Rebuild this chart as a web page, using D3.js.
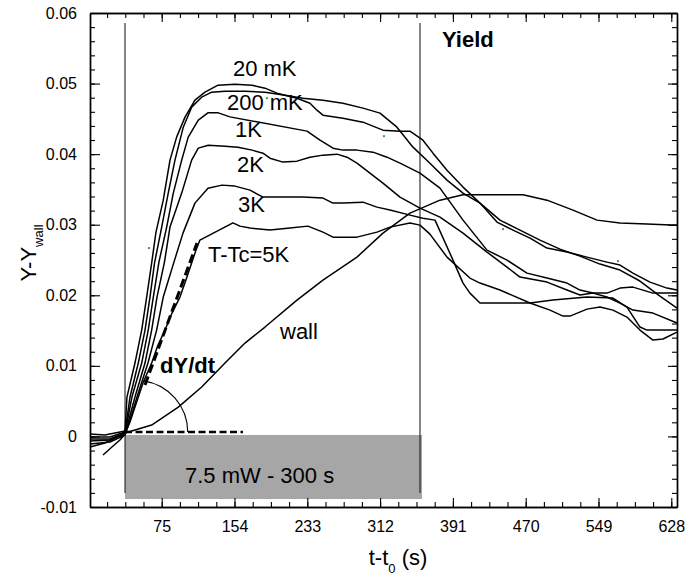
<!DOCTYPE html>
<html>
<head>
<meta charset="utf-8">
<script src="https://cdn.jsdelivr.net/npm/d3@7"></script>
<style>
  html, body { margin: 0; padding: 0; background: #fff; }
  svg { display: block; font-family: "Liberation Sans", Arial, sans-serif; }
</style>
</head>
<body>
<svg id="chart" width="688" height="583"></svg>
<script>
// ---------------- DATA (time t-t0 in s, Y-Ywall) ----------------
const xTickValues = [75, 154, 233, 312, 391, 470, 549, 628];
const xTickLabels = ["75", "154", "233", "312", "391", "470", "549", "628"];
const yTickValues = [-0.01, 0, 0.01, 0.02, 0.03, 0.04, 0.05, 0.06];
const yTickLabels = ["-0.01", "0", "0.01", "0.02", "0.03", "0.04", "0.05", "0.06"];

const seriesNames = ["20 mK", "200 mK", "1K", "2K", "3K", "T-Tc=5K", "wall"];

const s20mK = [[-2.8,0.34],[13.4,0.20],[24.3,0.48],[35.2,0.76],[37.3,5.58],[46.0,10.40],[53.3,15.07],[58.7,19.75],[64.1,24.56],[68.8,28.95],[76.7,33.48],[84.0,39.15],[91.3,42.45],[100.3,45.24],[111.1,47.65],[122.0,48.78],[136.1,49.77],[154.5,49.92],[173.0,49.77],[187.1,49.35],[200.1,48.64],[221.8,47.93],[235.9,47.22],[243.5,46.23],[250.0,45.52],[271.7,45.10],[293.4,44.53],[315.1,43.40],[333.6,43.26],[344.4,43.26],[358.5,41.98],[369.4,40.14],[384.6,37.73],[402.0,35.33],[420.4,33.06],[442.1,30.65],[463.8,29.24],[485.5,27.82],[507.2,26.54],[528.9,25.55],[550.6,24.42],[572.3,23.57],[594.0,22.02],[615.7,19.89],[634.2,18.19]];

const s200mK = [[-2.8,-0.08],[18.9,-0.08],[35.2,0.62],[40.6,5.58],[49.6,10.40],[56.9,15.07],[62.3,19.75],[67.2,24.56],[75.0,29.66],[82.1,34.48],[89.4,39.15],[98.4,43.82],[107.5,46.66],[118.4,48.07],[129.2,48.78],[143.7,48.92],[165.4,48.92],[187.1,48.78],[208.8,48.36],[228.3,47.93],[250.0,47.65],[271.7,47.22],[293.4,46.52],[311.9,45.81],[330.3,43.82],[347.7,40.99],[366.1,38.72],[384.6,36.32],[402.0,34.48],[420.4,33.06],[438.8,30.37],[456.2,29.24],[474.7,28.10],[493.1,26.69],[514.8,26.12],[536.5,25.41],[558.2,24.70],[572.3,24.28],[586.4,23.14],[604.9,21.87],[623.3,21.02],[634.2,20.74]];

const s1K = [[-2.8,-0.37],[18.9,-0.37],[35.2,0.48],[42.7,5.58],[53.3,10.40],[60.4,15.07],[65.9,19.75],[72.0,24.70],[80.4,29.66],[87.6,34.48],[96.7,39.15],[103.8,42.41],[114.7,44.82],[125.5,45.88],[136.4,45.85],[149.1,45.28],[232.7,43.26],[246.8,41.98],[260.9,40.85],[271.7,40.57],[286.9,40.57],[304.3,40.28],[319.5,39.57],[333.6,38.72],[355.3,37.31],[377.0,35.18],[402.0,30.65],[428.0,26.40],[449.7,24.99],[471.4,23.14],[493.1,22.44],[514.8,21.73],[528.9,20.74],[543.0,20.31],[558.2,20.31],[572.3,21.02],[586.4,21.16],[608.1,20.31],[634.2,20.31]];

const s2K = [[-2.8,-0.65],[18.9,-0.51],[35.2,0.34],[46.0,5.58],[56.9,10.40],[64.1,15.07],[69.9,19.75],[78.0,24.70],[84.0,29.66],[96.7,34.48],[107.5,39.15],[114.7,40.85],[125.5,41.27],[143.7,41.13],[157.8,40.99],[173.0,40.57],[184.9,40.14],[192.5,39.43],[206.6,38.87],[221.8,39.01],[235.9,39.57],[250.0,39.86],[265.2,40.00],[276.1,39.57],[286.9,38.72],[301.0,37.31],[315.1,35.89],[333.6,33.91],[355.3,32.35],[377.0,31.08],[402.0,28.81],[428.0,26.12],[449.7,23.99],[463.8,22.58],[493.1,21.87],[514.8,20.74],[528.9,20.03],[543.0,20.31],[558.2,19.75],[572.3,18.90],[586.4,17.90],[608.1,17.48],[634.2,16.07]];

const s3K = [[-2.8,-1.08],[18.9,-0.79],[35.2,0.20],[40.6,2.32],[48.2,5.58],[60.1,10.40],[69.5,15.07],[76.7,19.75],[88.3,24.70],[98.1,28.81],[111.1,33.06],[125.2,35.18],[140.4,35.61],[154.5,35.47],[170.8,34.90],[184.9,33.91],[200.1,33.91],[228.3,33.91],[250.0,33.77],[260.9,33.06],[271.7,33.06],[293.4,33.20],[308.6,32.49],[322.7,32.07],[344.4,31.36],[358.5,30.93],[371.6,30.65],[391.1,24.99],[402.0,21.73],[409.5,20.31],[420.4,18.90],[474.7,18.90],[499.6,19.32],[536.5,19.75],[564.7,19.60],[579.9,18.33],[594.0,15.50],[601.6,15.07],[634.2,15.07]];

const s5K = [[11.3,-2.63],[21.0,-1.50],[29.7,-0.51],[35.2,0.34],[40.6,2.04],[46.0,4.16],[54.7,7.56],[64.1,10.40],[71.0,12.95],[78.6,15.07],[86.2,17.48],[94.8,19.75],[101.3,22.15],[107.5,24.56],[112.2,26.40],[116.5,27.82],[152.3,30.27],[159.9,29.80],[170.8,29.52],[192.5,29.24],[214.2,29.52],[233.7,29.80],[250.0,28.95],[260.9,28.24],[286.9,28.24],[308.6,28.95],[322.7,29.66],[344.4,30.23],[355.3,29.94],[366.1,28.67],[384.6,25.41],[409.5,22.44],[420.4,21.73],[442.1,20.74],[474.7,18.90],[496.4,17.90],[510.5,17.05],[518.1,17.05],[536.5,18.04],[550.6,18.33],[564.7,17.90],[579.9,16.91],[594.0,15.07],[608.1,13.65],[619.0,13.80],[634.2,14.79]];

const sWall = [[-2.8,-1.50],[13.4,-0.93],[35.2,0.48],[64.1,1.61],[93.0,4.16],[118.4,7.00],[143.7,10.40],[165.4,13.23],[187.1,15.50],[221.8,19.32],[250.0,22.15],[286.9,25.41],[315.1,28.81],[344.4,31.64],[377.0,33.48],[402.0,34.26],[467.1,34.26],[493.1,33.48],[521.3,32.07],[547.4,30.65],[572.3,30.23],[601.6,30.09],[634.2,29.94]];

// values above are in units of 0.001
const allSeries = [s20mK, s200mK, s1K, s2K, s3K, s5K, sWall];

// heating interval (s) and its power band (Y)
const heatStart = 35.2, heatEnd = 355.3, bandEnd = 357.5;
const bandY = [-0.00887, 0.0002];
const markerLineY = [-0.0080, 0.0586];
// baseline (dashed) and tangent dY/dt on the 5K curve
const baselineT = [35.2, 163.2], baselineY = 0.00062;
const tangentT = [56.9, 113.3], tangentY = [0.00728, 0.0274];
// angle arc: vertex, end on baseline, start on tangent
const arcCenter = [47.1, 0.00062], arcEnd = [103.2, 0.00062], arcStart = [55.0, 0.00775];
// stray green data points
const greenDots = [[61.2, 26.69], [189.2, 47.93], [316.2, 42.55], [445.4, 29.38], [570.2, 24.84]];

// ---------------- CHART ----------------
const svg = d3.select("#chart");
const x = d3.scaleLinear().domain([-2.8, 634.2]).range([90, 677]);
const y = d3.scaleLinear().domain([-0.01, 0.06]).range([507, 13]);

const TICK_FONT = 16;

// grey power band
svg.append("rect")
  .attr("x", x(heatStart)).attr("y", y(bandY[1]))
  .attr("width", x(bandEnd) - x(heatStart)).attr("height", y(bandY[0]) - y(bandY[1]))
  .attr("fill", "#a6a6a6");

// vertical markers of heating start/end
[heatStart, heatEnd].forEach(t => {
  svg.append("line")
    .attr("x1", x(t)).attr("x2", x(t))
    .attr("y1", y(markerLineY[1])).attr("y2", y(markerLineY[0]))
    .attr("stroke", "#222").attr("stroke-width", 1.1);
});

// curves
const line = d3.line().x(d => x(d[0])).y(d => y(d[1] / 1000));
svg.append("g").selectAll("path").data(allSeries).join("path")
  .attr("d", line)
  .attr("fill", "none").attr("stroke", "#000").attr("stroke-width", 1.5)
  .attr("stroke-linejoin", "round");

// green stray points
svg.append("g").selectAll("rect").data(greenDots).join("rect")
  .attr("x", d => x(d[0]) - 1).attr("y", d => y(d[1] / 1000) - 1)
  .attr("width", 2).attr("height", 2).attr("fill", "#3aa43a");

// dashed baseline
svg.append("line")
  .attr("x1", x(baselineT[0])).attr("x2", x(baselineT[1]))
  .attr("y1", y(baselineY)).attr("y2", y(baselineY))
  .attr("stroke", "#000").attr("stroke-width", 2.6).attr("stroke-dasharray", "7,3.5");

// dashed tangent
svg.append("line")
  .attr("x1", x(tangentT[0])).attr("x2", x(tangentT[1]))
  .attr("y1", y(tangentY[0])).attr("y2", y(tangentY[1]))
  .attr("stroke", "#000").attr("stroke-width", 3).attr("stroke-dasharray", "9,4");

// angle arc
{
  const cx = x(arcCenter[0]), cy = y(arcCenter[1]);
  const r = x(arcEnd[0]) - cx;
  const ang = Math.atan2(cy - y(arcStart[1]), x(arcStart[0]) - cx);
  const sx = cx + r * Math.cos(ang), sy = cy - r * Math.sin(ang);
  svg.append("path")
    .attr("d", `M${cx + r},${cy} A${r},${r} 0 0 0 ${sx},${sy}`)
    .attr("fill", "none").attr("stroke", "#000").attr("stroke-width", 1.1);
}

// axes (ticks inward on all four sides)
const minorX = d3.range(75 - 19.75 * 3, 634.2, 19.75);
const minorY = d3.range(-0.01, 0.0601, 0.002);

function styleAxis(g) {
  g.selectAll("path.domain").attr("stroke", "#000").attr("stroke-width", 1.4);
  g.selectAll(".tick line").attr("stroke", "#000").attr("stroke-width", 1.1);
  g.selectAll("text").attr("font-size", TICK_FONT).attr("font-family", "Liberation Sans, Arial, sans-serif").attr("fill", "#000");
}

// bottom
svg.append("g").attr("transform", "translate(0,507)")
  .call(d3.axisBottom(x).tickValues(minorX).tickSizeInner(-5).tickSizeOuter(0).tickFormat(""))
  .call(styleAxis);
svg.append("g").attr("transform", "translate(0,507)")
  .call(d3.axisBottom(x).tickValues(xTickValues).tickSizeInner(-9).tickSizeOuter(0).tickPadding(14)
    .tickFormat((d, i) => xTickLabels[i]))
  .call(styleAxis);
// top
svg.append("g").attr("transform", "translate(0,13)")
  .call(d3.axisTop(x).tickValues(minorX).tickSizeInner(-5).tickSizeOuter(0).tickFormat(""))
  .call(styleAxis);
svg.append("g").attr("transform", "translate(0,13)")
  .call(d3.axisTop(x).tickValues(xTickValues).tickSizeInner(-9).tickSizeOuter(0).tickFormat(""))
  .call(styleAxis);
// left
svg.append("g").attr("transform", "translate(90,0)")
  .call(d3.axisLeft(y).tickValues(minorY).tickSizeInner(-5).tickSizeOuter(0).tickFormat(""))
  .call(styleAxis);
svg.append("g").attr("transform", "translate(90,0)")
  .call(d3.axisLeft(y).tickValues(yTickValues).tickSizeInner(-10).tickSizeOuter(0).tickPadding(13)
    .tickFormat((d, i) => yTickLabels[i]))
  .call(styleAxis);
// right
svg.append("g").attr("transform", "translate(677,0)")
  .call(d3.axisRight(y).tickValues(minorY).tickSizeInner(-5).tickSizeOuter(0).tickFormat(""))
  .call(styleAxis);
svg.append("g").attr("transform", "translate(677,0)")
  .call(d3.axisRight(y).tickValues(yTickValues).tickSizeInner(-9).tickSizeOuter(0).tickFormat(""))
  .call(styleAxis);

// annotations
const LABEL = 22;
function label(txt, px, py, bold) {
  svg.append("text").attr("x", px).attr("y", py)
    .attr("font-size", LABEL).attr("font-weight", bold ? "bold" : "normal")
    .attr("fill", "#000").text(txt);
}
label(seriesNames[0], x(152.3), y(0.05105));
label(seriesNames[1], x(145.8), y(0.0462));
label(seriesNames[2], x(154.5), y(0.0424));
label(seriesNames[3], x(156.7), y(0.0374));
label(seriesNames[4], x(157.8), y(0.0318));
label(seriesNames[5], x(125.2), y(0.0247));
label(seriesNames[6], x(203.4), y(0.0138));
label("Yield", x(379.2), y(0.0552), true);
label("dY/dt", x(73.2), y(0.0090), true);
label("7.5 mW - 300 s", x(100.3), y(-0.0066));

// axis titles
const yt = svg.append("text")
  .attr("transform", "translate(36,253) rotate(-90)")
  .attr("text-anchor", "middle").attr("font-size", 22).attr("fill", "#000");
yt.append("tspan").text("Y-Y");
yt.append("tspan").attr("dy", 7).attr("font-size", 13).text("wall");

const xt = svg.append("text")
  .attr("x", 398).attr("y", 565)
  .attr("text-anchor", "middle").attr("font-size", 22).attr("fill", "#000");
xt.append("tspan").text("t-t");
xt.append("tspan").attr("dy", 8).attr("font-size", 13).text("0");
xt.append("tspan").attr("dy", -8).text(" (s)");
</script>
</body>
</html>
